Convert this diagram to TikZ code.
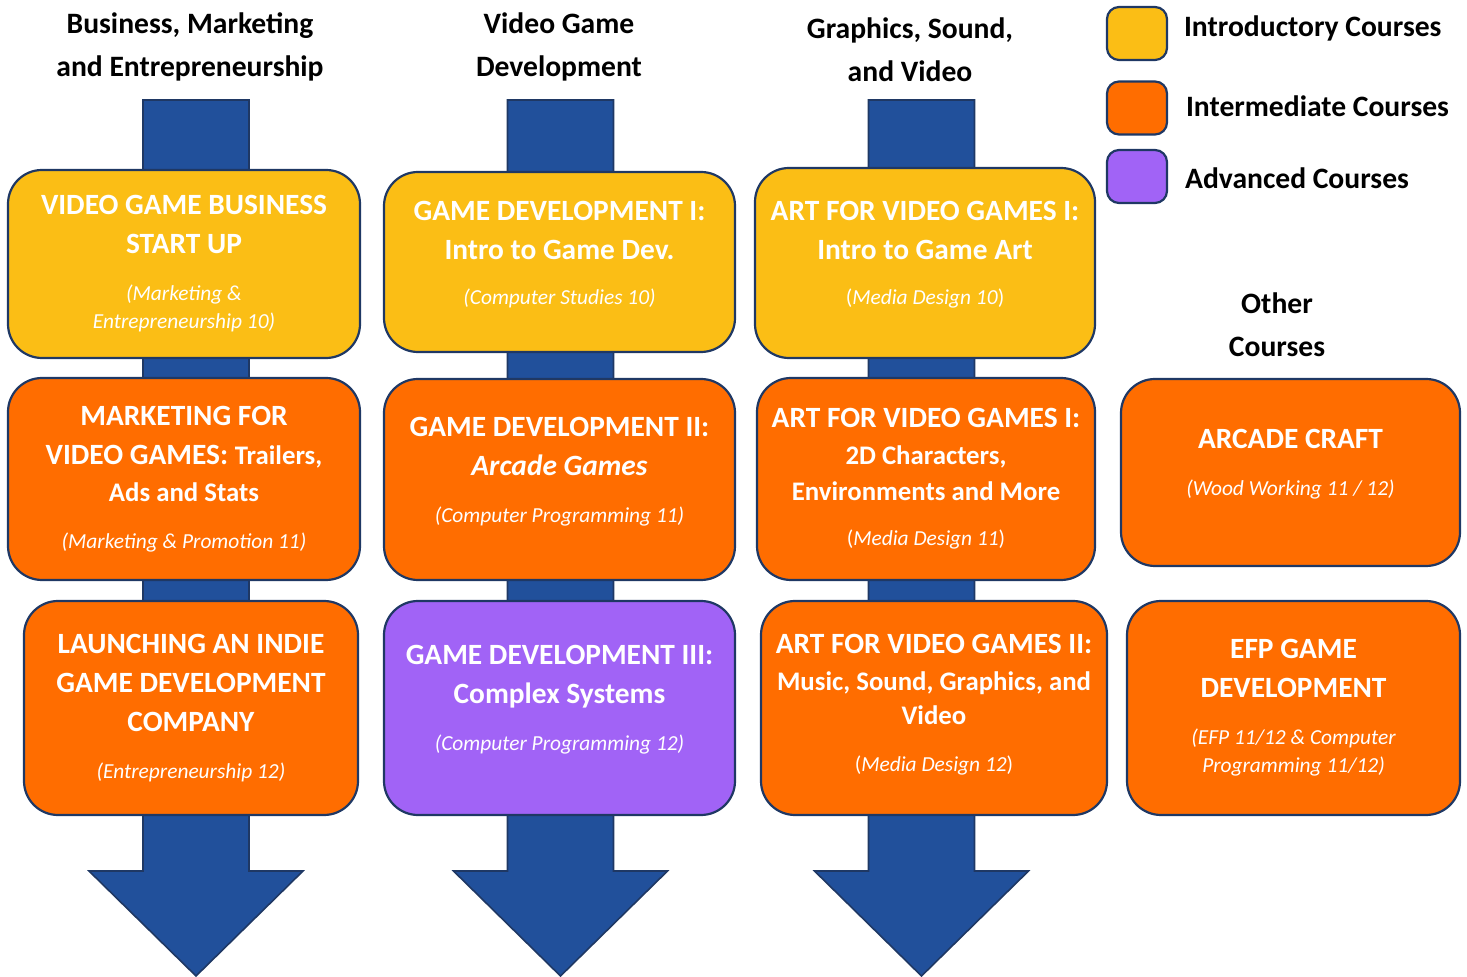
\documentclass[tikz,border=0pt]{standalone}
\usepackage{fontspec}
\setmainfont{Carlito}
\definecolor{intro}{RGB}{251,190,21}
\definecolor{inter}{RGB}{255,109,0}
\definecolor{adv}{RGB}{161,99,246}
\definecolor{flowblue}{RGB}{33,80,155}
\definecolor{navy}{RGB}{31,56,100}
\tikzset{
  course/.style={draw=navy, fill=#1, rounded corners=17pt, line width=1.1pt, align=center,
    text=white, font=\fontsize{14.7}{19.5}\selectfont\bfseries, inner sep=0pt},
  lift/.style={text depth=#1},
  key/.style={draw=navy, fill=#1, rounded corners=6pt, line width=1.1pt,
    minimum width=30pt, minimum height=26.5pt},
  keylabel/.style={anchor=west, font=\fontsize{14.8}{17}\selectfont\bfseries},
  track/.style={align=center, font=\fontsize{14.8}{21.5}\selectfont\bfseries},
  flow/.style={fill=flowblue, draw=navy, line width=0.8pt, line join=miter}
}
\newcommand{\coursecode}[1]{{\fontsize{10.7}{14}\selectfont\mdseries\itshape #1}}
\newcommand{\mediacode}[1]{{\fontsize{10.7}{14}\selectfont\mdseries(\textit{#1})}}
\newcommand{\minorline}[1]{{\fontsize{13.4}{18}\selectfont #1}}
% one big down arrow behind each track
\newcommand{\flowarrow}[1]{%
  \draw[flow] (#1-53,100) -- (#1+53,100) -- (#1+53,871) -- (#1+107,871) -- (#1,976)
    -- (#1-107,871) -- (#1-53,871) -- cycle;}

\begin{document}
\begin{tikzpicture}[x=0.5pt, y=-0.5pt]
  \useasboundingbox (0,0) rectangle (1467,977);

  % track arrows
  \flowarrow{196}
  \flowarrow{560.5}
  \flowarrow{921.5}

  % track titles
  \node[track] (biztitle) at (190,46.5) {Business, Marketing\\and Entrepreneurship};
  \node[track] (devtitle) at (559,46.5) {Video Game\\Development};
  \node[track] (arttitle) at (910,50) {Graphics, Sound,\\and Video};
  \node[track] (othertitle) at (1277,324.5) {Other\\Courses};

  % business track
  \node[course=intro, minimum width=176pt, minimum height=94pt] (biz1) at (184,264)
    {VIDEO GAME BUSINESS\\START UP\\[4pt]\coursecode{(Marketing \&}\\[-5.5pt]\coursecode{Entrepreneurship 10)}};
  \node[course=inter, minimum width=176pt, minimum height=101pt] (biz2) at (184,479)
    {MARKETING FOR\\VIDEO GAMES: \minorline{Trailers,}\\[-1pt]\minorline{Ads and Stats}\\[4pt]\coursecode{(Marketing \& Promotion 11)}};
  \node[course=inter, minimum width=167pt, minimum height=107pt] (biz3) at (191,708)
    {LAUNCHING AN INDIE\\GAME DEVELOPMENT\\COMPANY\\[4pt]\coursecode{(Entrepreneurship 12)}};

  % game development track
  \node[course=intro, lift=9pt, minimum width=175.5pt, minimum height=90pt] (dev1) at (559.5,262)
    {GAME DEVELOPMENT I:\\Intro to Game Dev.\\[3pt]\coursecode{(Computer Studies 10)}};
  \node[course=inter, lift=10pt, minimum width=175.5pt, minimum height=100.5pt] (dev2) at (559.5,479.5)
    {GAME DEVELOPMENT II:\\\textit{Arcade Games}\\[4pt]\coursecode{(Computer Programming 11)}};
  \node[course=adv, lift=10pt, minimum width=175.5pt, minimum height=107pt] (dev3) at (559.5,708)
    {GAME DEVELOPMENT III:\\Complex Systems\\[4pt]\coursecode{(Computer Programming 12)}};

  % art track
  \node[course=intro, lift=10.5pt, minimum width=170pt, minimum height=95pt] (art1) at (925,263)
    {ART FOR VIDEO GAMES I:\\Intro to Game Art\\[3pt]\mediacode{Media Design 10}};
  \node[course=inter, minimum width=169pt, minimum height=101pt] (art2) at (926,479)
    {ART FOR VIDEO GAMES I:\\[-1pt]\minorline{2D Characters,}\\[-1.5pt]\minorline{Environments and More}\\[3pt]\mediacode{Media Design 11}};
  \node[course=inter, lift=5pt, minimum width=173pt, minimum height=107pt] (art3) at (934,708)
    {ART FOR VIDEO GAMES II:\\[-1pt]\minorline{Music, Sound, Graphics, and}\\[-2.5pt]\minorline{Video}\\[4pt]\mediacode{Media Design 12}};

  % other courses
  \node[course=inter, lift=10.5pt, minimum width=169.5pt, minimum height=93.5pt] (craft) at (1290.5,472.5)
    {ARCADE CRAFT\\[4pt]\coursecode{(Wood Working 11 / 12)}};
  \node[course=inter, minimum width=166.5pt, minimum height=107pt] (efp) at (1293.5,708)
    {EFP GAME\\DEVELOPMENT\\[4pt]\coursecode{(EFP 11/12 \& Computer}\\[-5.5pt]\coursecode{Programming 11/12)}};

  % legend
  \node[key=intro] (keyintro) at (1137,33.5) {};
  \node[key=inter] (keyinter) at (1137,108) {};
  \node[key=adv] (keyadv) at (1137,176.5) {};
  \node[keylabel] (lblintro) at (1177,28) {Introductory Courses};
  \node[keylabel] (lblinter) at (1179,106) {Intermediate Courses};
  \node[keylabel] (lbladv) at (1178,178) {Advanced Courses};
\end{tikzpicture}
\end{document}
